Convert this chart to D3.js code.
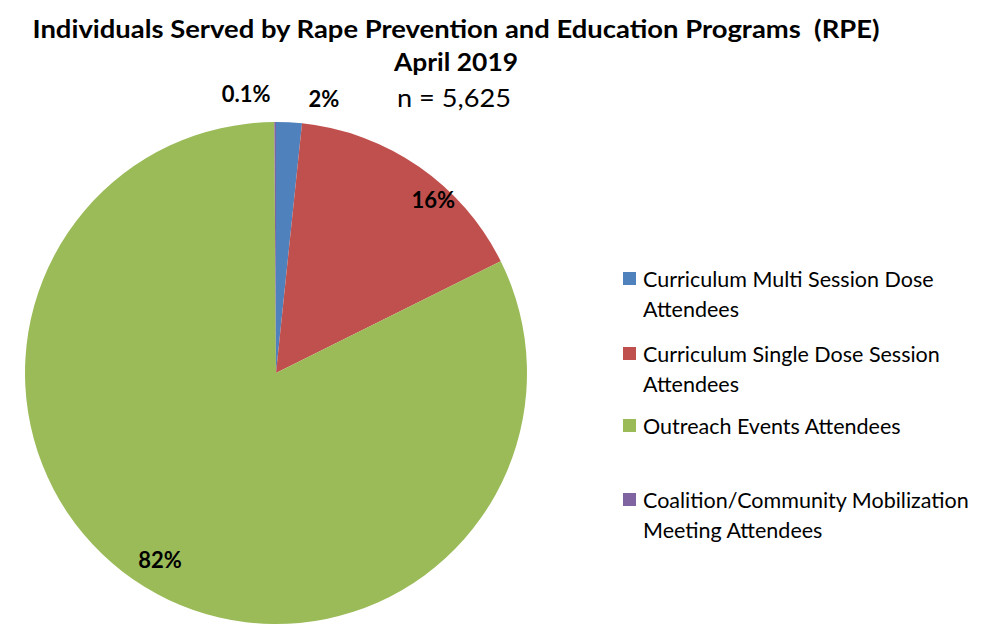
<!DOCTYPE html>
<html>
<head>
<meta charset="utf-8">
<script src="https://cdn.jsdelivr.net/npm/d3@7"></script>
<style>
  html, body { margin: 0; padding: 0; background: #fff; }
  svg { display: block; }
  text { font-family: Lato, "Open Sans", sans-serif; fill: #000; white-space: pre; }
</style>
</head>
<body>
<svg id="chart" width="995" height="626"></svg>
<script>
// ---- data ----
const categories = [
  "Curriculum Multi Session Dose Attendees",
  "Curriculum Single Dose Session Attendees",
  "Outreach Events Attendees",
  "Coalition/Community Mobilization Meeting Attendees"
];
const counts = [93, 900, 4626, 6];
const percentLabels = ["2%", "16%", "82%", "0.1%"];
const titleLines = ["Individuals Served by Rape Prevention and Education Programs  (RPE)", "April 2019"];
const subtitle = "n = 5,625";
const legendLines = [
  ["Curriculum Multi Session Dose", "Attendees"],
  ["Curriculum Single Dose Session", "Attendees"],
  ["Outreach Events Attendees"],
  ["Coalition/Community Mobilization", "Meeting Attendees"]
];

// ---- styles / layout ----
const colors = ["#4F81BD", "#C0504D", "#9BBB59", "#8064A2"];
const cx = 276, cy = 373, R = 251;
// label placement: [angle in degrees clockwise from top, radius]
const labelPlacement = [[9.9, 278], [42.2, 234], [211.8, 220], [-6.1, 281]];
const legendY = [[287, 317], [362, 392], [434], [508, 538]];

const svg = d3.select("#chart");

const color = d3.scaleOrdinal().domain(categories).range(colors);

const pie = d3.pie().sort(null).value(d => d.v);
const arcs = pie(categories.map((c, i) => ({ c, v: counts[i], i })));
const arc = d3.arc().innerRadius(0).outerRadius(R);

const g = svg.append("g").attr("transform", `translate(${cx},${cy})`);
g.selectAll("path").data(arcs).enter().append("path")
  .attr("d", arc)
  .attr("fill", d => color(d.data.c))
  .attr("stroke", "none");

// slice labels
g.selectAll("text.lbl").data(arcs).enter().append("text")
  .attr("class", "lbl")
  .attr("transform", d => {
    const [a, r] = labelPlacement[d.data.i];
    const p = d3.pointRadial(a * Math.PI / 180, r);
    return `translate(${p[0]},${p[1]})`;
  })
  .attr("text-anchor", "middle")
  .attr("dy", "0.36em")
  .style("font-weight", "bold")
  .style("font-size", "22px")
  .text(d => percentLabels[d.data.i]);

// title
svg.append("text").attr("x", 456).attr("y", 38)
  .attr("text-anchor", "middle")
  .attr("textLength", 847).attr("lengthAdjust", "spacingAndGlyphs")
  .style("font-weight", "bold").style("font-size", "25px")
  .text(titleLines[0]);
svg.append("text").attr("x", 456).attr("y", 71)
  .attr("text-anchor", "middle")
  .attr("textLength", 124).attr("lengthAdjust", "spacingAndGlyphs")
  .style("font-weight", "bold").style("font-size", "25px")
  .text(titleLines[1]);
svg.append("text").attr("x", 454).attr("y", 107)
  .attr("text-anchor", "middle")
  .attr("textLength", 114).attr("lengthAdjust", "spacingAndGlyphs")
  .style("font-size", "25px")
  .text(subtitle);

// legend
const leg = svg.append("g");
categories.forEach((c, i) => {
  const ys = legendY[i];
  leg.append("rect").attr("x", 623).attr("y", ys[0] - 15).attr("width", 13).attr("height", 13)
    .attr("fill", color(c));
  legendLines[i].forEach((line, j) => {
    leg.append("text").attr("x", 643).attr("y", ys[j])
      .style("font-size", "21.5px")
      .text(line);
  });
});
</script>
</body>
</html>
